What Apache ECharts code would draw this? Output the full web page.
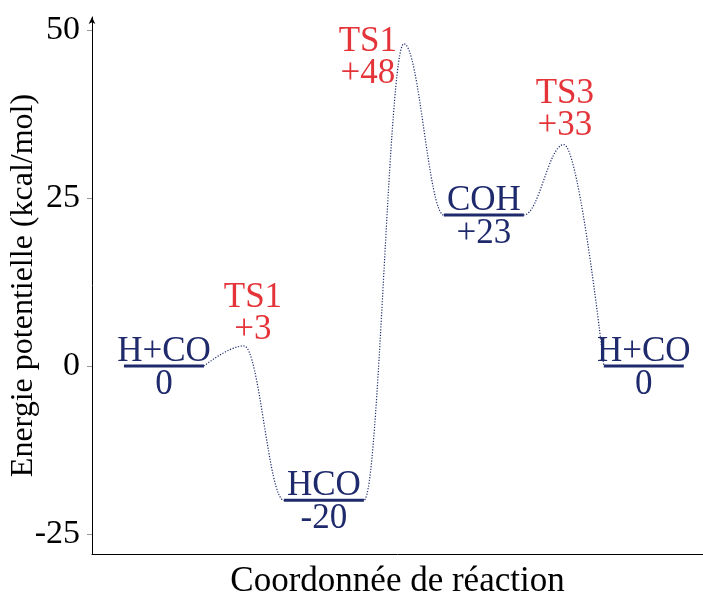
<!DOCTYPE html>
<html>
<head>
<meta charset="utf-8">
<script src="https://cdn.jsdelivr.net/npm/echarts@6/dist/echarts.min.js"></script>
<style>
  html, body { margin: 0; padding: 0; background: #fff; }
  #chart { width: 703px; height: 594px; }
</style>
</head>
<body>
<div id="chart"></div>
<script>
// ---- data ----
const minimaNames = ['H+CO', 'HCO', 'COH', 'H+CO'];
const minimaX = [1, 3, 5, 7];
const minimaE = [0, -20, 22.5, 0];
const minimaLabels = ['0', '-20', '+23', '0'];

const tsNames = ['TS1', 'TS1', 'TS3'];
const tsX = [2, 4, 6];
const tsE = [3, 48, 33];
const tsLabels = ['+3', '+48', '+33'];

const pathX = [1.5, 2, 2.5, 3.5, 4, 4.5, 5.5, 6, 6.5];
const pathE = [0, 3, -20, -20, 48, 22.5, 22.5, 33, 0];

const yTicks = [-25, 0, 25, 50];

// ---- styling ----
const BLUE = '#1f2a6c';
const RED = '#e4343a';
const FONT = 'Liberation Serif';

const chart = echarts.init(document.getElementById('chart'), null, { renderer: 'canvas' });

const series = [];

series.push({
  type: 'line',
  data: pathX.map((x, i) => [x, pathE[i]]),
  smooth: 0.38,
  smoothMonotone: 'x',
  showSymbol: false,
  symbol: 'none',
  lineStyle: { color: BLUE, width: 1.2, type: [1.2, 1.6] },
  z: 1
});

minimaX.forEach((x, i) => {
  series.push({
    type: 'line',
    data: [[x - 0.5, minimaE[i]], [x + 0.5, minimaE[i]]],
    symbol: 'none',
    lineStyle: { color: BLUE, width: 3, type: 'solid' },
    z: 3
  });
});

const labelItem = { opacity: 1 };

series.push({
  type: 'scatter',
  symbolSize: 0,
  itemStyle: labelItem,
  data: minimaX.map((x, i) => ({ value: [x, minimaE[i]], name: minimaNames[i] })),
  label: {
    show: true, position: 'top', distance: -3,
    formatter: p => p.name,
    color: BLUE, fontSize: 35, fontFamily: FONT, opacity: 1
  },
  z: 4
});

series.push({
  type: 'scatter',
  symbolSize: 0,
  itemStyle: labelItem,
  data: minimaX.map((x, i) => ({ value: [x, minimaE[i]], name: minimaLabels[i] })),
  label: {
    show: true, position: 'bottom', distance: 1,
    formatter: p => p.name,
    color: BLUE, fontSize: 35, fontFamily: FONT, opacity: 1
  },
  z: 4
});

const tsOffsets = [[9, 0], [-36, 46], [1, -3]];
series.push({
  type: 'scatter',
  symbolSize: 0,
  itemStyle: labelItem,
  data: tsX.map((x, i) => ({
    value: [x, tsE[i]],
    name: tsNames[i] + '\n' + tsLabels[i],
    label: { offset: tsOffsets[i] }
  })),
  label: {
    show: true, position: 'top', distance: 0,
    formatter: p => p.name,
    color: RED, fontSize: 35, lineHeight: 32, fontFamily: FONT, align: 'center', opacity: 1
  },
  z: 4
});

chart.setOption({
  animation: false,
  backgroundColor: '#ffffff',
  grid: { left: 92, right: 0, top: 17, bottom: 40, containLabel: false, outerBoundsMode: 'none' },
  xAxis: {
    type: 'value', min: 0.1, max: 7.74,
    axisLine: { show: true, onZero: false, lineStyle: { color: '#000', width: 1 } },
    axisTick: { show: false },
    axisLabel: { show: false },
    splitLine: { show: false },
    name: 'Coordonnée de réaction',
    nameLocation: 'middle',
    nameGap: 10,
    nameMoveOverlap: false,
    nameTextStyle: { fontSize: 35, fontFamily: FONT, color: '#000', verticalAlign: 'top' }
  },
  yAxis: {
    type: 'value', min: -28, max: 52,
    axisLine: {
      show: true, onZero: false,
      lineStyle: { color: '#000', width: 1 },
      symbol: ['none', 'arrow'], symbolSize: [5, 7]
    },
    axisTick: { show: true, customValues: yTicks, length: 5, lineStyle: { color: '#999' } },
    axisLabel: {
      show: true, customValues: yTicks, margin: 12,
      fontSize: 34, fontFamily: FONT, color: '#000',
      formatter: v => String(v)
    },
    splitLine: { show: false },
    name: 'Energie potentielle (kcal/mol)',
    nameLocation: 'middle',
    nameGap: 52,
    nameRotate: 90,
    nameMoveOverlap: false,
    nameTextStyle: { fontSize: 32, fontFamily: FONT, color: '#000' }
  },
  series: series
});
</script>
</body>
</html>
